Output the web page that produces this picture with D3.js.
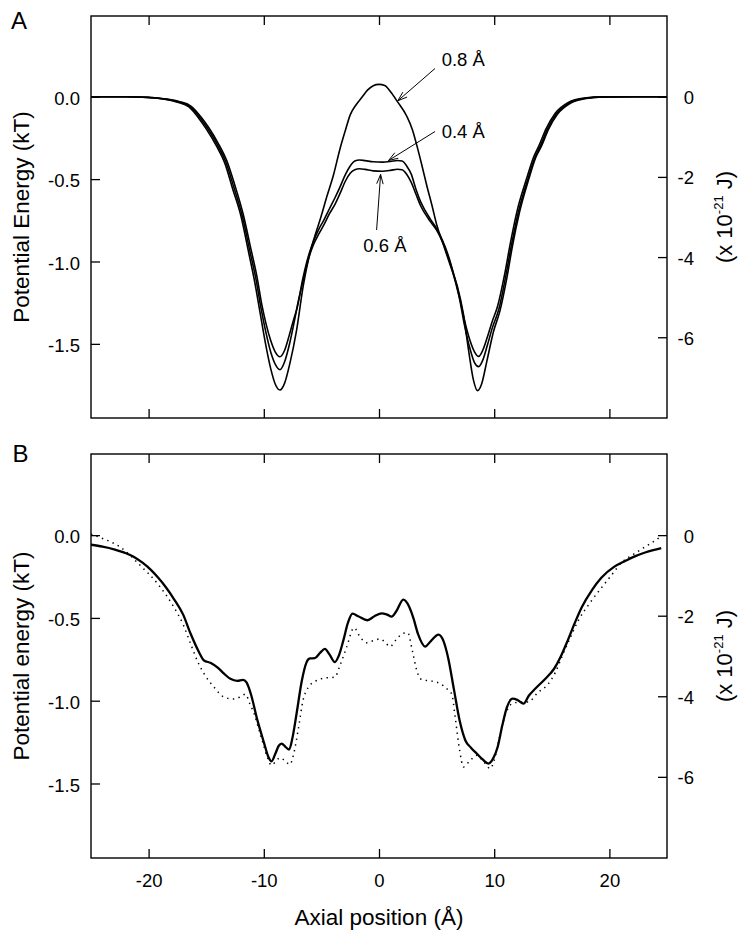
<!DOCTYPE html>
<html>
<head>
<meta charset="utf-8">
<script src="https://cdn.jsdelivr.net/npm/d3@7"></script>
<style>
  html, body { margin: 0; padding: 0; background: #fff; }
  svg { display: block; }
  text { font-family: "Liberation Sans", Arial, Helvetica, sans-serif; fill: #000; }
</style>
</head>
<body>
<svg id="chart" width="738" height="930"></svg>
<script>
// Axial position ticks (Å)
const xTicks = [-20, -10, 0, 10, 20];
const xTickLabels = ["-20", "-10", "0", "10", "20"];
// Left axis: energy in kT
const kTTicks = [0, -0.5, -1.0, -1.5];
const kTTickLabels = ["0.0", "-0.5", "-1.0", "-1.5"];
// Right axis: energy in units of 10^-21 J
const jouleTicks = [0, -2, -4, -6];
const jouleTickLabels = ["0", "-2", "-4", "-6"];
// 1 kT at room temperature, in 10^-21 J
const kT_in_zJ = 4.11;

// Panel A: potential profiles for three displacement amplitudes  [x (Å), U (kT)]
const profile04 = [[-25,0],[-22,0],[-20,-0.004],[-18.4,-0.014],[-17.3,-0.03],[-16.3,-0.058],[-15.4,-0.127],[-14.8,-0.185],[-13.9,-0.29],[-13.2,-0.39],[-12.5,-0.54],[-11.8,-0.71],[-11.1,-0.93],[-10.6,-1.09],[-10.15,-1.27],[-9.8,-1.38],[-9.4,-1.48],[-9.0,-1.55],[-8.6,-1.578],[-8.2,-1.54],[-7.8,-1.45],[-7.4,-1.35],[-7.1,-1.28],[-6.6,-1.1],[-6.1,-0.96],[-5.7,-0.88],[-5.2,-0.8],[-4.8,-0.75],[-4.3,-0.68],[-3.8,-0.61],[-3.4,-0.55],[-2.9,-0.47],[-2.5,-0.42],[-2.1,-0.39],[-1.7,-0.384],[-1.2,-0.388],[-0.5,-0.395],[0.3,-0.397],[1.0,-0.393],[1.6,-0.387],[2.0,-0.39],[2.4,-0.42],[2.8,-0.47],[3.2,-0.56],[3.6,-0.635],[4.0,-0.69],[4.43,-0.74],[5.0,-0.8],[5.5,-0.87],[6.0,-0.96],[6.5,-1.08],[7.0,-1.22],[7.4,-1.35],[7.9,-1.48],[8.3,-1.55],[8.65,-1.576],[9.0,-1.54],[9.4,-1.46],[9.8,-1.37],[10.3,-1.27],[10.9,-1.08],[11.4,-0.89],[12.0,-0.69],[12.8,-0.5],[13.4,-0.37],[13.9,-0.295],[14.5,-0.195],[15.3,-0.1],[16.4,-0.036],[17.8,-0.008],[19.5,-0.001],[22,0],[25,0]];
const profile06 = [[-25,0],[-22,0],[-20,-0.004],[-18.5,-0.015],[-17.4,-0.031],[-16.4,-0.06],[-15.5,-0.13],[-14.9,-0.19],[-14.0,-0.295],[-13.3,-0.395],[-12.6,-0.55],[-11.9,-0.715],[-11.2,-0.94],[-10.7,-1.1],[-10.25,-1.28],[-9.85,-1.42],[-9.4,-1.55],[-9.0,-1.625],[-8.6,-1.657],[-8.2,-1.61],[-7.8,-1.51],[-7.4,-1.38],[-7.0,-1.24],[-6.6,-1.12],[-6.1,-0.98],[-5.7,-0.9],[-5.2,-0.83],[-4.8,-0.78],[-4.3,-0.71],[-3.8,-0.65],[-3.4,-0.59],[-2.9,-0.51],[-2.5,-0.465],[-2.1,-0.443],[-1.7,-0.437],[-1.2,-0.441],[-0.5,-0.45],[0.3,-0.452],[1.0,-0.447],[1.6,-0.44],[2.0,-0.443],[2.4,-0.47],[2.8,-0.52],[3.2,-0.59],[3.6,-0.66],[4.0,-0.71],[4.43,-0.755],[5.0,-0.81],[5.5,-0.88],[6.0,-0.97],[6.5,-1.09],[7.0,-1.23],[7.4,-1.38],[7.9,-1.53],[8.3,-1.615],[8.65,-1.638],[9.0,-1.6],[9.4,-1.51],[9.85,-1.4],[10.4,-1.29],[11.0,-1.09],[11.5,-0.9],[12.1,-0.7],[12.9,-0.505],[13.5,-0.375],[14.0,-0.3],[14.6,-0.2],[15.4,-0.103],[16.5,-0.038],[17.9,-0.009],[19.5,-0.001],[22,0],[25,0]];
const profile08 = [[-25,0],[-22,0],[-20,-0.005],[-18.5,-0.016],[-17.5,-0.033],[-16.5,-0.062],[-15.6,-0.135],[-15.0,-0.195],[-14.1,-0.30],[-13.4,-0.40],[-12.7,-0.56],[-12.0,-0.72],[-11.3,-0.95],[-10.8,-1.12],[-10.35,-1.30],[-9.9,-1.48],[-9.4,-1.65],[-9.0,-1.745],[-8.6,-1.78],[-8.2,-1.74],[-7.74,-1.62],[-7.16,-1.42],[-6.58,-1.15],[-6.0,-0.95],[-5.5,-0.83],[-5.13,-0.75],[-4.5,-0.6],[-3.97,-0.48],[-3.4,-0.32],[-2.9,-0.2],[-2.5,-0.11],[-2.0,-0.05],[-1.5,-0.005],[-1.0,0.04],[-0.5,0.067],[0,0.075],[0.5,0.068],[1.0,0.03],[1.6,-0.03],[2.4,-0.117],[2.9,-0.2],[3.3,-0.3],[3.7,-0.41],[4.15,-0.54],[4.6,-0.66],[5.02,-0.78],[5.6,-0.9],[6.17,-1.02],[6.8,-1.15],[7.33,-1.32],[7.8,-1.55],[8.2,-1.72],[8.55,-1.784],[8.9,-1.745],[9.36,-1.606],[9.94,-1.425],[10.5,-1.3],[11.1,-1.1],[11.6,-0.9],[12.2,-0.7],[13.0,-0.5],[13.6,-0.37],[14.1,-0.3],[14.7,-0.2],[15.5,-0.105],[16.6,-0.04],[18.0,-0.01],[19.5,-0.002],[22,0],[25,0]];

// Panel B: full profile (solid) and comparison profile (dotted)
const profileSolid = [[-25,-0.058],[-24,-0.07],[-23,-0.086],[-22.1,-0.106],[-21.3,-0.13],[-20.5,-0.168],[-19.8,-0.21],[-19.2,-0.255],[-18.5,-0.315],[-17.8,-0.386],[-17,-0.48],[-16.35,-0.596],[-15.6,-0.71],[-15.19,-0.757],[-14.6,-0.772],[-14.0,-0.80],[-13.45,-0.837],[-12.9,-0.868],[-12.3,-0.88],[-11.8,-0.874],[-11.5,-0.89],[-11.13,-0.958],[-10.55,-1.119],[-10.0,-1.25],[-9.6,-1.34],[-9.33,-1.366],[-9.0,-1.32],[-8.7,-1.272],[-8.46,-1.259],[-8.1,-1.28],[-7.8,-1.295],[-7.5,-1.22],[-7.16,-1.08],[-6.7,-0.88],[-6.3,-0.77],[-6.0,-0.745],[-5.57,-0.743],[-5.1,-0.71],[-4.7,-0.687],[-4.3,-0.72],[-3.83,-0.767],[-3.5,-0.73],[-3.1,-0.637],[-2.7,-0.53],[-2.3,-0.474],[-1.8,-0.49],[-1.0,-0.514],[-0.4,-0.49],[0.23,-0.472],[0.7,-0.48],[1.1,-0.492],[1.5,-0.46],[2.11,-0.39],[2.6,-0.43],[2.98,-0.5],[3.4,-0.6],[4.0,-0.673],[4.5,-0.64],[5.16,-0.601],[5.6,-0.64],[6.0,-0.74],[6.5,-0.93],[7.0,-1.12],[7.5,-1.24],[8.0,-1.285],[8.5,-1.32],[9.0,-1.355],[9.5,-1.38],[9.9,-1.35],[10.3,-1.28],[10.7,-1.15],[11.1,-1.04],[11.6,-0.988],[12.0,-0.995],[12.55,-1.018],[13.0,-0.97],[13.6,-0.925],[14.4,-0.87],[15.2,-0.807],[15.8,-0.73],[16.3,-0.65],[17.0,-0.53],[17.6,-0.436],[18.5,-0.33],[19.3,-0.257],[20.4,-0.192],[21.4,-0.155],[22.2,-0.128],[23.1,-0.105],[23.8,-0.091],[24.5,-0.079]];
const profileDotted = [[-25,0.006],[-24,-0.02],[-22.4,-0.075],[-20.7,-0.185],[-19.2,-0.295],[-17.8,-0.436],[-17,-0.54],[-16.35,-0.657],[-15.7,-0.77],[-15.19,-0.837],[-14.32,-0.918],[-13.45,-0.978],[-12.6,-0.99],[-12.0,-0.975],[-11.6,-0.96],[-11.2,-1.02],[-10.84,-1.078],[-10.4,-1.18],[-10.06,-1.259],[-9.7,-1.34],[-9.33,-1.39],[-9.0,-1.37],[-8.6,-1.345],[-8.2,-1.36],[-7.74,-1.385],[-7.4,-1.32],[-7.0,-1.17],[-6.6,-1.0],[-6.14,-0.92],[-5.42,-0.878],[-4.6,-0.862],[-3.83,-0.858],[-3.4,-0.79],[-2.81,-0.677],[-2.17,-0.56],[-1.6,-0.62],[-1.07,-0.65],[-0.4,-0.635],[0.09,-0.627],[0.5,-0.645],[0.96,-0.673],[1.5,-0.63],[2.11,-0.593],[2.5,-0.59],[2.9,-0.7],[3.28,-0.817],[3.71,-0.873],[4.4,-0.88],[5.02,-0.888],[5.6,-0.91],[6.03,-0.938],[6.32,-0.96],[6.61,-1.099],[7.0,-1.3],[7.33,-1.40],[7.8,-1.37],[8.49,-1.33],[9.1,-1.37],[9.65,-1.41],[10.0,-1.36],[10.4,-1.24],[10.9,-1.1],[11.5,-1.02],[12.0,-1.01],[12.96,-1.008],[13.8,-0.95],[14.7,-0.898],[15.3,-0.83],[15.86,-0.737],[16.6,-0.62],[17.3,-0.516],[18.3,-0.41],[19.33,-0.316],[20.2,-0.24],[21.07,-0.165],[22.0,-0.12],[22.8,-0.084],[23.7,-0.045],[24.55,-0.004]];

// Curve annotations for panel A
const annotations = [
  { label: "0.8 Å", text: [441.7, 65.7], from: [435, 68.5], to: [397.8, 100.8] },
  { label: "0.4 Å", text: [441.7, 137.7], from: [435, 131.5], to: [388.5, 160.5] },
  { label: "0.6 Å", text: [363.3, 251.7], from: [376.6, 230], to: [380.6, 174.5] }
];

const svg = d3.select("#chart");
const left = 91, right = 667;
const yDomain = [-1.95, 0.49];
const tickFont = 18.5;

const x = d3.scaleLinear().domain([-25, 25]).range([left, right]);

function drawPanel(top, bottom, opts) {
  const y = d3.scaleLinear().domain(yDomain).range([bottom, top]);
  const yJ = d3.scaleLinear().domain(yDomain.map(v => v * kT_in_zJ)).range([bottom, top]);
  const g = svg.append("g");

  const clipId = "clip" + opts.letter;
  svg.append("clipPath").attr("id", clipId)
    .append("rect").attr("x", left).attr("y", top).attr("width", right - left).attr("height", bottom - top);

  const line = d3.line().x(d => x(d[0])).y(d => y(d[1])).curve(d3.curveMonotoneX);
  const curves = g.append("g").attr("clip-path", `url(#${clipId})`);
  opts.series.forEach(s => {
    curves.append("path")
      .datum(s.data)
      .attr("d", line)
      .attr("fill", "none")
      .attr("stroke", "#000")
      .attr("stroke-width", s.width)
      .attr("stroke-dasharray", s.dash || null)
      .attr("stroke-linejoin", "round");
  });

  const tickStyle = sel => {
    sel.select(".domain").remove();
    sel.selectAll(".tick line").attr("stroke", "#000").attr("stroke-width", 1.3);
    sel.selectAll(".tick text")
      .attr("font-family", '"Liberation Sans", Arial, sans-serif')
      .attr("font-size", tickFont)
      .attr("fill", "#000");
  };

  g.append("g").attr("transform", `translate(0,${bottom})`)
    .call(d3.axisBottom(x).tickValues(xTicks).tickSize(-9).tickPadding(16)
      .tickFormat((d, i) => opts.xLabels ? xTickLabels[i] : ""))
    .call(tickStyle);
  g.append("g").attr("transform", `translate(0,${top})`)
    .call(d3.axisTop(x).tickValues(xTicks).tickSize(-9).tickFormat(""))
    .call(tickStyle);
  g.append("g").attr("transform", `translate(${left},0)`)
    .call(d3.axisLeft(y).tickValues(kTTicks).tickSize(-9).tickPadding(11)
      .tickFormat((d, i) => kTTickLabels[i]))
    .call(tickStyle)
    .selectAll(".tick text").attr("dy", "0.42em");
  g.append("g").attr("transform", `translate(${right},0)`)
    .call(d3.axisRight(yJ).tickValues(jouleTicks).tickSize(-9).tickPadding(27)
      .tickFormat((d, i) => jouleTickLabels[i]))
    .call(tickStyle)
    .selectAll(".tick text").attr("text-anchor", "end").attr("dy", "0.38em");

  g.append("rect")
    .attr("x", left).attr("y", top)
    .attr("width", right - left).attr("height", bottom - top)
    .attr("fill", "none").attr("stroke", "#000").attr("stroke-width", 1.4);

  const mid = (top + bottom) / 2;
  g.append("text")
    .attr("transform", `translate(29,${mid}) rotate(-90)`)
    .attr("text-anchor", "middle")
    .attr("font-size", 22.5)
    .text(opts.title);

  const rt = g.append("text")
    .attr("transform", `translate(732,${mid}) rotate(-90)`)
    .attr("text-anchor", "middle")
    .attr("font-size", 22);
  rt.append("tspan").text("(x 10");
  rt.append("tspan").attr("font-size", 13).attr("dy", -9).text("-21");
  rt.append("tspan").attr("dy", 9).text(" J)");

  g.append("text")
    .attr("x", opts.letterPos[0]).attr("y", opts.letterPos[1])
    .attr("font-size", 24)
    .text(opts.letter);

  return { g, y };
}

drawPanel(16, 418, {
  letter: "A",
  letterPos: [11, 29.3],
  title: "Potential Energy (kT)",
  xLabels: false,
  series: [
    { data: profile04, width: 1.6 },
    { data: profile06, width: 1.6 },
    { data: profile08, width: 1.6 }
  ]
});

drawPanel(454, 858, {
  letter: "B",
  letterPos: [12.5, 461.7],
  title: "Potential energy (kT)",
  xLabels: true,
  series: [
    { data: profileDotted, width: 1.5, dash: "1.4,4.4" },
    { data: profileSolid, width: 2.3 }
  ]
});

svg.append("text")
  .attr("x", x(0)).attr("y", 925)
  .attr("text-anchor", "middle")
  .attr("font-size", 22.5)
  .text("Axial position (Å)");

// Annotation labels and open-headed arrows
const ann = svg.append("g");
annotations.forEach(a => {
  ann.append("text")
    .attr("x", a.text[0]).attr("y", a.text[1])
    .attr("font-size", tickFont)
    .text(a.label);
  ann.append("line")
    .attr("x1", a.from[0]).attr("y1", a.from[1])
    .attr("x2", a.to[0]).attr("y2", a.to[1])
    .attr("stroke", "#000").attr("stroke-width", 1);
  const ang = Math.atan2(a.from[1] - a.to[1], a.from[0] - a.to[0]);
  const len = 10, spread = 0.33;
  const p1 = [a.to[0] + len * Math.cos(ang + spread), a.to[1] + len * Math.sin(ang + spread)];
  const p2 = [a.to[0] + len * Math.cos(ang - spread), a.to[1] + len * Math.sin(ang - spread)];
  ann.append("path")
    .attr("d", `M${p1[0]},${p1[1]}L${a.to[0]},${a.to[1]}L${p2[0]},${p2[1]}`)
    .attr("fill", "none").attr("stroke", "#000").attr("stroke-width", 1);
});
</script>
</body>
</html>
